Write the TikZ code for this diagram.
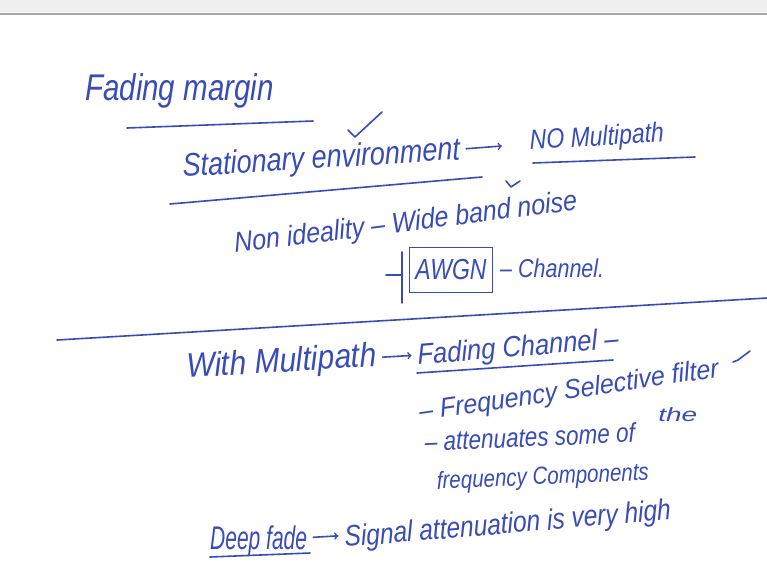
\documentclass[tikz,border=0pt]{standalone}
\usepackage{fontspec}
\setmainfont{Liberation Sans}
\usetikzlibrary{calc,arrows}
\definecolor{ink}{RGB}{56,76,184}
\tikzset{
  scrawl/.style={font=\fontsize{#1}{#1}\selectfont\itshape, text=ink, inner sep=0pt, anchor=base west, yscale=1.2},
  scrawl/.default=24,
  pen/.style={draw=ink, line width=1.6pt, line cap=round, line join=round}
}

\begin{document}
\begin{tikzpicture}[x=1pt,y=-1pt]
\useasboundingbox[fill=white] (0,0) rectangle (767,579);
% top bar
\fill[gray!12] (0,0) rectangle (767,12);
\draw[gray!70, line width=1.2pt] (0,14) -- (767,14);

% heading
\node[scrawl=29.5, yscale=1.05] (fm) at (85,100) {Fading margin};
\draw[pen] (127,128) -- (313,121);
\draw[pen] (348,130) -- (355,137) -- (382,112);

% no multipath
\node[scrawl=27, rotate=3] (stat) at (183,177) {Stationary environment};
\node[scrawl=23, rotate=3] (nomp) at (530,150) {NO Multipath};
\draw[pen, ->, shorten <=6pt, shorten >=28pt] (stat) -- (nomp);
\draw[pen] (170,204) -- (482,177);
\draw[pen] (533,163) -- (695,157);
\draw[pen] (506,181) -- (511,187) -- (520,181);

\node[scrawl=25, rotate=6, yscale=0.95] (nonid) at (235,253) {Non ideality -- Wide band noise};
\node[scrawl=23, yscale=1.05, draw=ink, line width=1.6pt, anchor=center, minimum width=83pt, minimum height=36pt] (awgn) at (451,270) {AWGN};
\draw[pen] (386,275) -- (402,275) (402,252) -- (402,303);
\node[scrawl=21.5] (chan) at (500,277) {-- Channel.};

\draw[pen] (57,340) -- (767,298);

% multipath
\node[scrawl=30, rotate=3, yscale=0.95] (withmp) at (187,378) {With Multipath};
\node[scrawl=25.5, rotate=4, yscale=0.95] (fadch) at (418,365) {Fading Channel --};
\draw[pen, ->, shorten <=6pt, shorten >=6pt] (withmp) -- (fadch);
\draw[pen] (417,373) -- (613,360);

\node[scrawl=25, rotate=7, yscale=0.9] (freq) at (420,421) {-- Frequency Selective filter};
\draw[pen] (733,362) -- (738,360) -- (750,351);
\node[scrawl=22.5, rotate=2] (att) at (425,451) {-- attenuates some of};
\node[scrawl=20, xscale=1.4, yscale=0.8] (the) at (658,421) {the};
\node[scrawl=20.5, rotate=2] (comp) at (437,489) {frequency Components};

% deep fade
\node[scrawl=21, yscale=1.3] (deep) at (210,549) {Deep fade};
\draw[pen] (210,557) -- (310,553);
\node[scrawl=24.5, rotate=4] (sig) at (345,547) {Signal attenuation is very high};
\draw[pen, ->, shorten <=6pt, shorten >=6pt] (deep) -- (sig);
\end{tikzpicture}
\end{document}
